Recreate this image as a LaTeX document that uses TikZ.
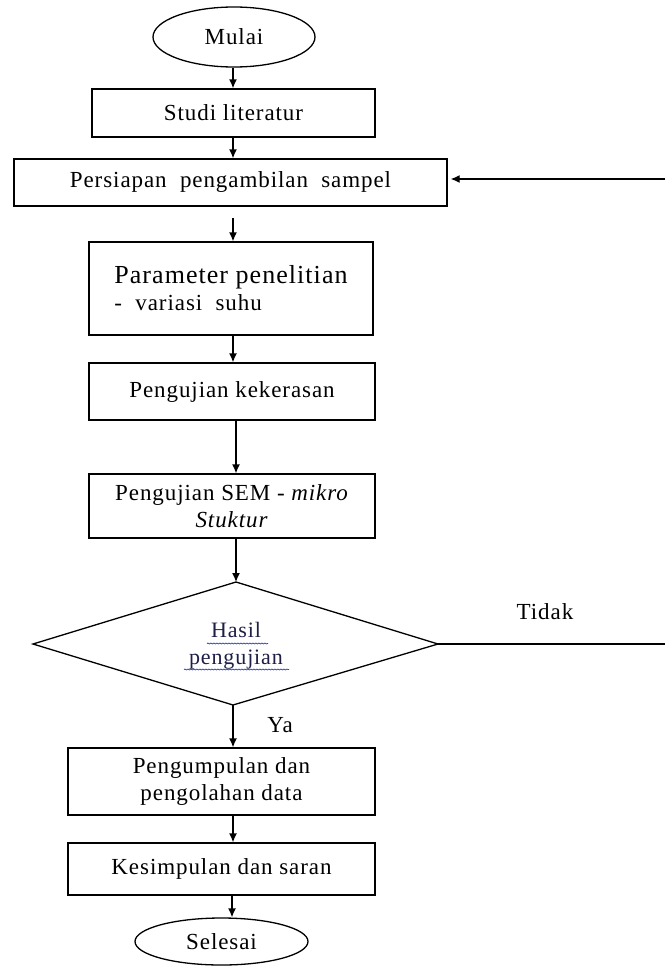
\documentclass[tikz,border=0pt]{standalone}
\usepackage{fontspec}
\setmainfont{Liberation Serif}[LetterSpace=4]
\usetikzlibrary{shapes.geometric,arrows.meta,decorations.pathmorphing}
\begin{document}
\begin{tikzpicture}[x=1pt,y=-1pt,
  box/.style={draw, line width=1.3pt, rectangle, inner sep=0pt, align=center,
    font=\fontsize{23}{27}\selectfont},
  term/.style={draw, line width=1.3pt, ellipse, inner sep=0pt,
    font=\fontsize{23}{27}\selectfont},
  dectext/.style={inner sep=0pt, align=center,
    font=\fontsize{22}{27}\selectfont, text={rgb,255:red,30;green,30;blue,70}},
  arr/.style={line width=1.3pt, -{Latex[length=9pt,width=8pt]}},
  plain/.style={line width=1.3pt},
  lbl/.style={font=\fontsize{23}{27}\selectfont},
  squiggle/.style={draw={rgb,255:red,40;green,60;blue,200}, line width=0.7pt,
    decorate, decoration={snake, amplitude=0.5pt, segment length=3pt}}]
\useasboundingbox (0,0) rectangle (665,966);

\node[term, minimum width=162pt, minimum height=60pt] (mulai) at (234,37) {Mulai};
\node[box, minimum width=283pt, minimum height=48pt] (studi) at (233.5,113) {Studi literatur};
\node[box, minimum width=433pt, minimum height=47pt] (persiapan) at (230.5,182.5) {Persiapan\ \ pengambilan\ \ sampel};
\node[box, minimum width=284pt, minimum height=93pt, align=left] (param) at (231,288.5)
  {\fontsize{26}{27}\selectfont Parameter penelitian\\\fontsize{23}{27}\selectfont -\ \ variasi\ \ suhu};
\node[box, minimum width=286pt, minimum height=57pt] (keras) at (232,391.5) {Pengujian kekerasan};
\node[box, minimum width=286pt, minimum height=64pt] (sem) at (232,506) {Pengujian SEM - \textit{mikro}\\\textit{Stuktur}};

\coordinate (hT) at (236,582);
\coordinate (hB) at (233,705);
\coordinate (hL) at (33,644);
\coordinate (hR) at (438,644);
\draw[plain, line join=miter] (hT) -- (hR) -- (hB) -- (hL) -- cycle;
\node[dectext] (hasil) at (236,645.5) {Hasil\\pengujian};

\node[box, minimum width=307pt, minimum height=67pt] (kumpul) at (221.5,781.5) {Pengumpulan dan\\pengolahan data};
\node[box, minimum width=307pt, minimum height=52pt] (simpul) at (221.5,869) {Kesimpulan dan saran};
\node[term, minimum width=173pt, minimum height=47pt] (selesai) at (221.5,941.5) {Selesai};
\node[lbl] (tidak) at (545,612) {Tidak};
\node[lbl] (ya) at (280,725) {Ya};

\coordinate (r1) at (665,644);
\coordinate (r2) at (665,179);
\coordinate (p3) at (233,218);

\draw[arr] (233,0 |- mulai.south) -- (233,0 |- studi.north);
\draw[arr] (233,0 |- studi.south) -- (233,0 |- persiapan.north);
\draw[arr] (p3) -- (p3 |- param.north);
\draw[arr] (233,0 |- param.south) -- (233,0 |- keras.north);
\draw[arr] (236,0 |- keras.south) -- (236,0 |- sem.north);
\draw[arr] (236,0 |- sem.south) -- (hT);
\draw[arr] (hB) -- (233,0 |- kumpul.north);
\draw[arr] (233,0 |- kumpul.south) -- (233,0 |- simpul.north);
\draw[arr] (232,0 |- simpul.south) -- (232,0 |- selesai.north);
\draw[plain] (hR) -- (r1);
\draw[arr, shorten >=3pt] (r2) -- (persiapan.east |- r2);

\draw[squiggle] ([shift={(-29,-2)}]hasil.center) -- ([shift={(32,-2)}]hasil.center);
\draw[squiggle] ([shift={(-52,24)}]hasil.center) -- ([shift={(53,24)}]hasil.center);
\end{tikzpicture}
\end{document}
